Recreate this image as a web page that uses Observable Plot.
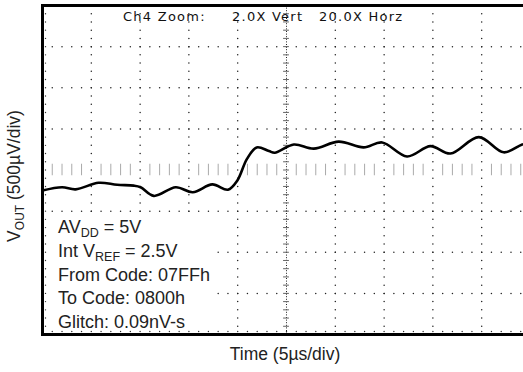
<!DOCTYPE html>
<html>
<head>
<meta charset="utf-8">
<script src="https://cdn.jsdelivr.net/npm/d3@7"></script>
<script src="https://cdn.jsdelivr.net/npm/@observablehq/plot@0.6"></script>
<style>
  html, body { margin: 0; padding: 0; background: #fff; }
  #chart { width: 523px; height: 372px; overflow: hidden; }
</style>
</head>
<body>
<div id="chart"></div>
<script>
// Time in µs (5 µs/div), VOUT in µV (500 µV/div)
const timeUs = [0, 2.0, 3.4, 5.75, 7.65, 9.35, 10.05, 11.4, 13.65, 15.4, 17.4, 19.0, 19.95, 20.95, 21.95, 23.2, 23.8, 25.75, 27.8, 30.35, 32.9, 34.8, 37.35, 39.75, 41.8, 44.7, 47.25, 49.15, 50];
const voutUv = [-250, -210, -235, -155, -180, -190, -210, -315, -210, -270, -175, -240, -130, 135, 275, 230, 210, 310, 260, 345, 275, 335, 165, 290, 200, 400, 215, 310, 330];

const xDivisions = [0, 5, 10, 15, 20, 25, 30, 35, 40, 45, 50];
const yDivisions = [-2000, -1500, -1000, -500, 0, 500, 1000, 1500, 2000];
const xMinorStep = 1;     // µs (5 minors per division)
const yMinorStep = 100;   // µV

const headerTexts = ["Ch4 Zoom:", "2.0X Vert", "20.0X Horz"];
const noteLines = [
  [["AV", ""], ["DD", "sub"], [" = 5V", ""]],
  [["Int V", ""], ["REF", "sub"], [" = 2.5V", ""]],
  [["From Code: 07FFh", ""]],
  [["To Code: 0800h", ""]],
  [["Glitch: 0.09nV-s", ""]]
];
// note box extent in data units (µs, µV)
const noteBox = [{x1: 0.35, x2: 17.6, y1: -1960, y2: -565}];
const xLabel = "Time (5µs/div)";
const yLabelParts = [["V", ""], ["OUT", "sub"], [" (500µV/div)", ""]];

const trace = timeUs.map((t, i) => ({t, v: voutUv[i]}));

const xMinors = d3.range(0, 50 + 1e-9, xMinorStep);
const yMinors = d3.range(-2000, 2000 + 1e-9, yMinorStep);

const vGridDots = [];
for (const x of xDivisions.filter(d => d > 0 && d < 50 && d !== 25))
  for (const y of yMinors) vGridDots.push({x, y});
const hGridDots = [];
for (const y of yDivisions.filter(d => d > -2000 && d < 2000 && d !== 0))
  for (const x of xMinors) hGridDots.push({x, y});

const svg = Plot.plot({
  width: 523,
  height: 372,
  marginLeft: 42,
  marginRight: -7,
  marginTop: 5,
  marginBottom: 38,
  x: {domain: [0, 50], axis: null},
  y: {domain: [-2000, 2000], axis: null},
  style: {background: "white"},
  marks: [
    // dotted major grid
    Plot.dot(vGridDots, {x: "x", y: "y", r: 0.75, fill: "#222", stroke: null}),
    Plot.dot(hGridDots, {x: "x", y: "y", r: 0.75, fill: "#222", stroke: null}),
    // center vertical axis
    Plot.ruleX([25], {stroke: "#222", strokeWidth: 1, strokeDasharray: "1,1.6"}),
    Plot.ruleY(yMinors, {y: d => d, x1: 25 - 0.3, x2: 25 + 0.3, stroke: "#666", strokeWidth: 1}),
    // center horizontal axis ticks
    Plot.ruleX(xMinors.filter(d => d % 5 !== 0), {x: d => d, y1: -70, y2: 70, stroke: "#aaa", strokeWidth: 1}),
    // white box behind the notes
    Plot.rect(noteBox, {x1: "x1", x2: "x2", y1: "y1", y2: "y2", fill: "white"}),
    // inner edge minor ticks
    Plot.dot(yMinors, {x: () => 0, y: d => d, r: 0.7, fill: "#333", stroke: null, dx: 3}),
    Plot.dot(xMinors, {x: d => d, y: () => -2000, r: 0.7, fill: "#333", stroke: null, dy: -3}),
    // waveform
    Plot.line(trace, {x: "t", y: "v", curve: "catmull-rom", stroke: "#000", strokeWidth: 2.6}),
    Plot.frame({stroke: "#000", strokeWidth: 3})
  ]
});

const s = d3.select(svg);
const sans = "Liberation Sans, Arial, Helvetica, sans-serif";
// header text
const headerX = [123, 232, 319];
headerTexts.forEach((t, i) => {
  s.append("text").attr("x", headerX[i]).attr("y", 21).attr("text-anchor", "start")
    .attr("font-family", "DejaVu Sans").attr("font-size", 13)
    .attr("letter-spacing", 1.25).attr("fill", "#111").text(t);
});
// notes
const noteBase = [233, 257, 281, 304, 328];
noteLines.forEach((parts, i) => {
  const txt = s.append("text").attr("x", 58).attr("y", noteBase[i]).attr("text-anchor", "start")
    .attr("font-family", sans).attr("font-size", 18).attr("fill", "#222");
  parts.forEach(([p, kind], j) => {
    const ts = txt.append("tspan").text(p);
    if (kind === "sub") ts.attr("font-size", 12.5).attr("dy", 4);
    else if (j > 0) ts.attr("dy", -4);
  });
});
// x label
s.append("text").attr("x", 285).attr("y", 360).attr("text-anchor", "middle")
  .attr("font-family", sans).attr("font-size", 17.5).attr("fill", "#222")
  .text(xLabel);
// y label
const yl = s.append("text").attr("transform", "translate(20,176) rotate(-90)").attr("text-anchor", "middle")
  .attr("font-family", sans).attr("font-size", 17.5).attr("fill", "#222");
yLabelParts.forEach(([p, kind], i) => {
  const ts = yl.append("tspan").text(p);
  if (kind === "sub") ts.attr("font-size", 12).attr("dy", 4);
  else if (i > 0) ts.attr("dy", -4);
});

document.getElementById("chart").appendChild(svg);
</script>
</body>
</html>
